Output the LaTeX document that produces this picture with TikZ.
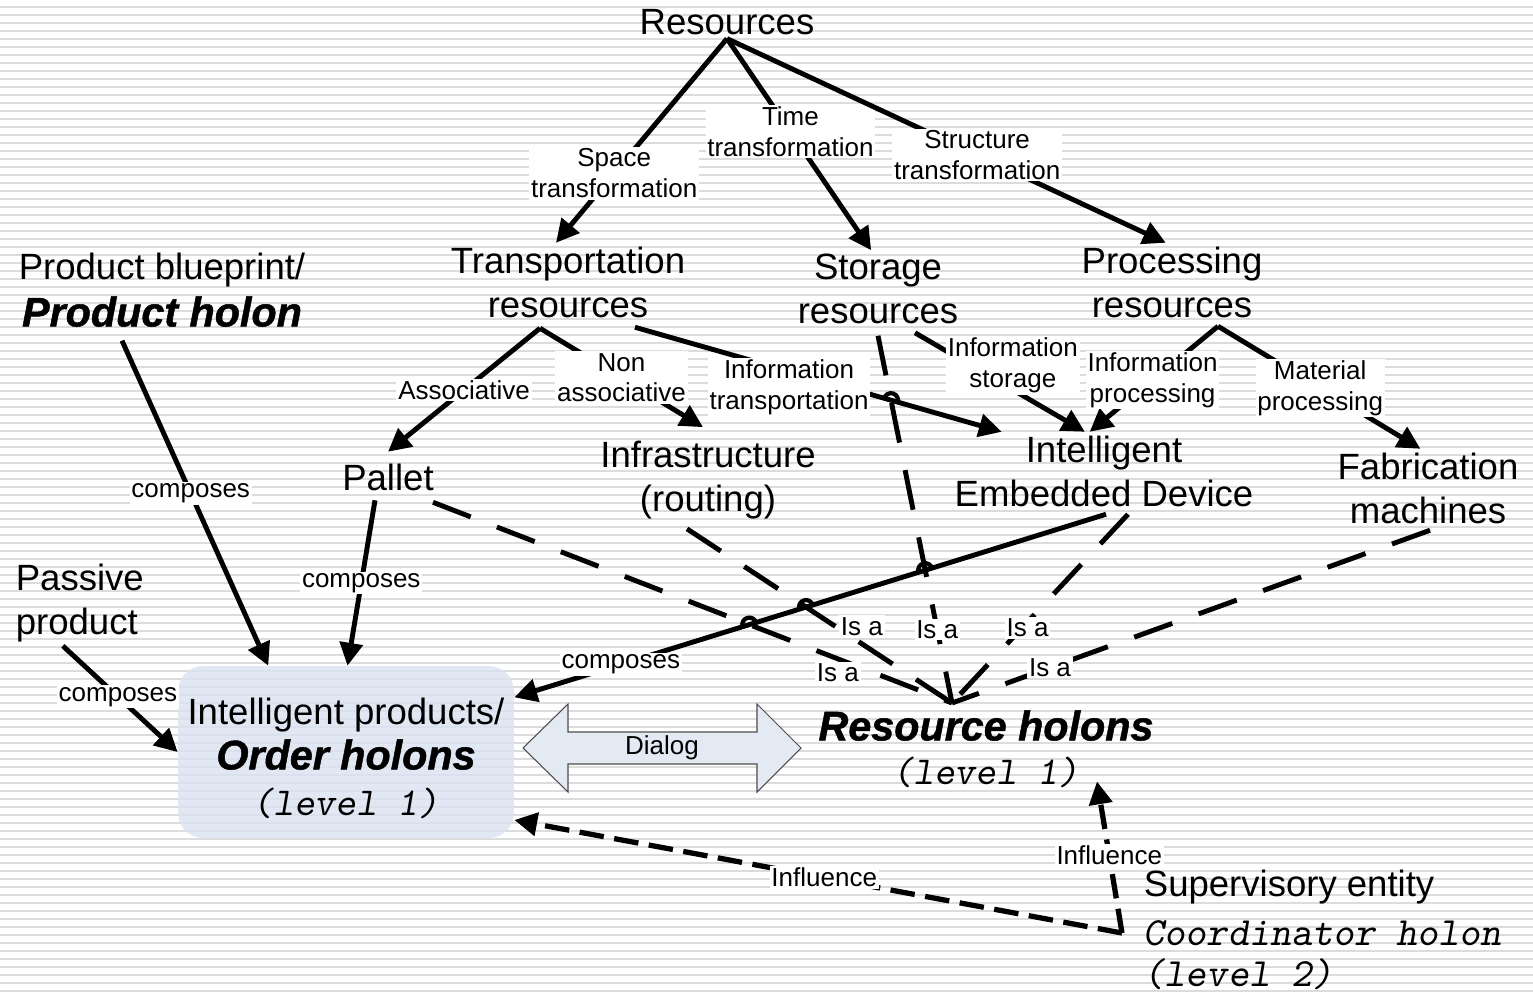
\documentclass[tikz,border=0pt]{standalone}
\usepackage{fontspec}
\setmainfont{Liberation Sans}
\newfontfamily\heavyfamily{Liberation Sans}[BoldItalicFeatures={FakeBold=1.2}]
\newfontfamily\levelfamily{lmmonoslant10-regular.otf}
\usetikzlibrary{arrows.meta,intersections}

\definecolor{stripegray}{RGB}{220,220,220}
\definecolor{boxblue}{RGB}{219,227,240}
\definecolor{arrowblue}{RGB}{228,234,244}

\newcommand{\bigtxt}{\fontsize{20.8pt}{25pt}\selectfont}
\newcommand{\smalltxt}{\fontsize{14.8pt}{17.6pt}\selectfont}
\newcommand{\holonfont}{\heavyfamily\fontsize{23.5pt}{25pt}\selectfont\bfseries\itshape}
\newcommand{\levelfont}{\levelfamily\fontsize{22.5pt}{25pt}\selectfont}
\newcommand{\coordfont}{\levelfamily\fontsize{22.8pt}{25pt}\selectfont}

\tikzset{
  stripe/.style={draw=stripegray, line width=0.04cm},
  item/.style={font=\bigtxt, align=center, inner sep=2pt},
  lbl/.style={font=\smalltxt, align=center, fill=white, inner sep=1pt},
  link/.style={line width=2.8pt, -{Triangle[length=13pt,width=13pt]}},
  isadash/.style={line width=2.8pt, dash pattern=on 23pt off 16pt},
  infl/.style={line width=3pt, dash pattern=on 14pt off 6pt, -{Triangle[length=13pt,width=13pt]}},
  hop/.style={line width=2.4pt},
  orderbox/.style={item, fill=boxblue, fill opacity=0.8, text opacity=1,
    rounded corners=0.5cm, minimum width=6.72cm, minimum height=3.44cm},
  dialog/.style={fill=arrowblue, draw=black!70, line width=0.6pt},
}

\begin{document}
\begin{tikzpicture}[x=0.02cm, y=-0.02cm]
\useasboundingbox (0,0) rectangle (1533,994);
% striped background
\fill[white] (0,0) rectangle (1533,994);
\foreach \k in {0,...,123}
  \draw[stripe] (0,6.7+8*\k) -- (1533,6.7+8*\k);

% resource tree
\node[item] (res) at (727,22) {Resources};
\node[item] (trans) at (568,282) {Transportation\\resources};
\node[item] (stor) at (878,289) {Storage\\resources};
\node[item] (proc) at (1172,282) {Processing\\resources};
\node[item] (pallet) at (388,477) {Pallet};
\node[item] (infra) at (708,480) {Infrastructure\\(routing)};
\node[item] (ied) at (1104,471) {Intelligent\\Embedded Device};
\node[item] (fab) at (1428,488) {Fabrication\\machines};

% products and holons
\node[item] (blue) at (162,290) {Product blueprint/\\[1.6pt]{\holonfont Product holon}};
\node[item, align=left, anchor=west] (passive) at (12,603) {Passive\\product};
\node[orderbox] (order) at (346,752) {\rule{0pt}{22pt}Intelligent products/\\[0.6pt]{\holonfont Order holons}\\[1pt]{\levelfont (level 1)}};
\node[item] (rh) at (986,749) {{\holonfont Resource holons}\\[0pt]{\levelfont (level 1)}};
\node[item, align=left, anchor=west] (sup) at (1140,930) {Supervisory entity\\[3pt]{\coordfont Coordinator holon}\\[-1.5pt]{\coordfont (level 2)}};

% dialog arrow
\draw[dialog] (523,748) -- (568,704) -- (568,732) -- (757,732) -- (757,704) -- (801,748)
  -- (757,792) -- (757,764) -- (568,764) -- (568,792) -- cycle;
\node[font=\smalltxt] (dlg) at (662,748) {Dialog};

% is-a links
\coordinate (isa) at (952,703);
\draw[isadash, name path=paldash] ([shift={(45,8)}]pallet.south) -- node[lbl, pos=0.78, yshift=-8pt] {Is a} (isa);
\draw[isadash, name path=infdash] ([shift={(-21,6)}]infra.south) -- node[lbl, pos=0.66, yshift=10pt] {Is a} (isa);
\draw[isadash, name path=stodash] ([shift={(0,8)}]stor.south) -- node[lbl, pos=0.8] {Is a} (isa);
\draw[isadash] ([shift={(24,4)}]ied.south) -- node[lbl, pos=0.57, yshift=-3.5pt] {Is a} (isa);
\draw[isadash] ([shift={(2,3)}]fab.south) -- node[lbl, pos=0.795] {Is a} (isa);

% transformations
\draw[link] (res.south) -- node[lbl, pos=0.66] {Space\\transformation} (trans.107);
\draw[link] (res.south) -- node[lbl, pos=0.44] {Time\\transformation} (stor.100);
\draw[link] (res.south) -- node[lbl, pos=0.57] {Structure\\transformation} (proc.99);

\draw[link] ([shift={(-28,7)}]trans.south) -- node[lbl, pos=0.5] {Associative} ([shift={(0,-8)}]pallet.north);
\draw[link] ([shift={(-28,7)}]trans.south) -- node[lbl, pos=0.5] {Non\\associative} ([shift={(-5,-10)}]infra.north);
\draw[link, name path=itline] ([shift={(67,6)}]trans.south) -- node[lbl, pos=0.42, yshift=-9pt] {Information\\transportation} (ied.159);
\draw[link] ([shift={(37,5)}]stor.south) -- node[lbl, pos=0.576, yshift=14pt] {Information\\storage} (ied.116);
\draw[link] ([shift={(46,5)}]proc.south) -- node[lbl, pos=0.51] {Information\\processing} (ied.110);
\draw[link] ([shift={(46,5)}]proc.south) -- node[lbl, pos=0.505] {Material\\processing} (fab.101);

% composition
\draw[link] ([shift={(-40,10)}]blue.south) -- node[lbl, pos=0.47] {composes} (order.132);
\draw[link] ([shift={(-13,6)}]pallet.south) -- node[lbl, pos=0.5] {composes} (order.89);
\draw[link] ([shift={(-17,0)}]passive.south) -- node[lbl, pos=0.48] {composes} (order.west);
\draw[link, name path=iedline] ([shift={(2,4)}]ied.south) -- node[lbl, pos=0.82] {composes} (order.18);

% influence
\coordinate (corner) at (1122,933);
\draw[infl] (corner) -- node[lbl, pos=0.49] {Influence} (order.-22);
\draw[infl] (corner) -- node[lbl, pos=0.51] {Influence} ([shift={(111,-10)}]rh.south);

% line hops
\path[name intersections={of=itline and stodash, by=h1}];
\path[name intersections={of=iedline and stodash, by=h2}];
\path[name intersections={of=iedline and infdash, by=h3}];
\path[name intersections={of=iedline and paldash, by=h4}];
\draw[hop] ([shift={(163.3:4pt)}]h1) arc[start angle=163.3, end angle=-16.7, radius=4pt];
\foreach \h in {h2,h3,h4}
  \draw[hop] ([shift={(197.2:4pt)}]\h) arc[start angle=197.2, end angle=17.2, radius=4pt];
\end{tikzpicture}
\end{document}
